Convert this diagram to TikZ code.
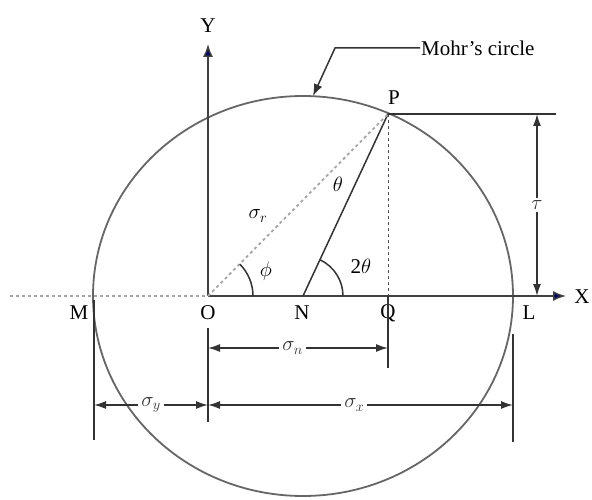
\documentclass[tikz,border=0pt]{standalone}
\usepackage{fontspec}
\setmainfont{Liberation Serif}
\usetikzlibrary{arrows.meta,calc}
\begin{document}
\begin{tikzpicture}[x=1pt,y=-1pt,
  line/.style={line width=1.5pt, black!80},
  dim/.style={line width=1.5pt, black!80, {Latex[length=12pt,width=8pt]}-{Latex[length=12pt,width=8pt]}},
  axisarrow/.style={line width=1.5pt, black!75, -{Latex[length=13pt,width=10pt,fill=blue!40!black]}},
  lbl/.style={font=\fontsize{21}{21}\selectfont, inner sep=1pt},
  wlbl/.style={lbl, fill=white, inner sep=3pt}]
\useasboundingbox (0,0) rectangle (592,500);
\coordinate (O) at (208,296);
\coordinate (N) at (303,296);
\coordinate (Q) at (388,296);
\coordinate (P) at (388,114);
\coordinate (M) at (94,296);
\coordinate (L) at (513,296);
% circle
\draw[line width=1.8pt, black!60] (N) ellipse [x radius=210, y radius=200];
% axes
\coordinate (Xs) at (10,296);
\coordinate (Xe) at (566,296);
\coordinate (Ye) at (208,44);
\draw[dashed, black!35, line width=1.5pt] (Xs) -- (O);
\draw[axisarrow] (O) -- (Xe);
\draw[axisarrow] (O) -- (Ye);
\node[lbl] (Xl) at (582,297) {X};
\node[lbl] (Yl) at (208,26) {Y};
% point labels
\node[lbl] (Ml) at (79,313) {M};
\node[lbl] (Ol) at (208,313) {O};
\node[lbl] (Nl) at (302,313) {N};
\node[lbl] (Ql) at (388,313) {Q};
\node[lbl] (Ll) at (529,313) {L};
\node[lbl] (Pl) at (394,98) {P};
% radial lines
\draw[line] (N) -- (P);
\draw[dashed, black!35, line width=1.8pt] (O) -- (P);
\draw[dashed, black!70, line width=1pt] (P) -- (Q);
% P horizontal and tau
\coordinate (Ph) at (556,114);
\draw[line] (P) -- (Ph);
\coordinate (Tt) at (537,114);
\coordinate (Tb) at (537,296);
\draw[dim] (Tt) -- (Tb) node[wlbl, midway] (tau) {$\tau$};
% extension lines
\coordinate (Qb) at (388,368);
\draw[line] (Q) -- (Qb);
\coordinate (Ma) at (94,300); \coordinate (Mb) at (94,440);
\draw[line] (Ma) -- (Mb);
\coordinate (Oa) at (208,328); \coordinate (Ob) at (208,422);
\draw[line] (Oa) -- (Ob);
\coordinate (La) at (513,334); \coordinate (Lb) at (513,442);
\draw[line] (La) -- (Lb);
% dimensions
\coordinate (D1a) at (208,348); \coordinate (D1b) at (388,348);
\draw[dim] (D1a) -- (D1b) node[wlbl, pos=0.47] (sn) {$\sigma_n$};
\coordinate (D2a) at (94,405); \coordinate (D2b) at (208,405); \coordinate (D2c) at (513,405);
\draw[dim] (D2a) -- (D2b) node[wlbl, midway] (sy) {$\sigma_y$};
\draw[dim] (D2b) -- (D2c) node[wlbl, pos=0.48] (sx) {$\sigma_x$};
% angles
\draw[line] ($(O)+(45,0)$) arc[start angle=0, end angle=-45, radius=45];
\node[lbl] (phi) at (266,271) {$\phi$};
\draw[line] ($(N)+(40,0)$) arc[start angle=0, end angle=-65, radius=40];
\node[lbl] (tth) at (361,266) {2$\theta$};
% stress labels
\node[lbl] (sr) at (258,216) {$\sigma_r$};
\node[lbl] (st) at (338,184) {$\theta$};
% Mohr's circle label
\node[lbl, anchor=west] (mc) at (420,48) {Mohr's circle};
\coordinate (k1) at (335,48);
\coordinate (k2) at (313,96);
\draw[line, -{Latex[length=12pt,width=9pt]}] (mc.west) -- (k1) -- (k2);
\end{tikzpicture}
\end{document}
